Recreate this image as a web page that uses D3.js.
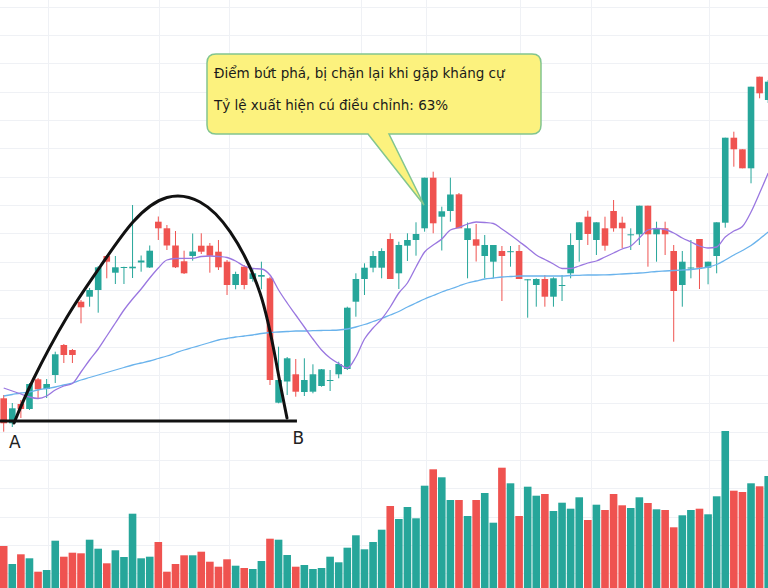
<!DOCTYPE html>
<html><head><meta charset="utf-8">
<script src="https://cdn.jsdelivr.net/npm/d3@7"></script>
<style>html,body{margin:0;padding:0;background:#fff;overflow:hidden}svg{display:block}</style>
</head><body><svg id="c" width="768" height="588"></svg>
<script>
// ---- DATA (price in thousand VND, volume in thousand shares) ----
const opens  = [28.97,26.47,28.40,27.90,30.87,29.90,31.30,34.30,33.80,38.63,39.13,39.80,43.20,41.53,42.02,41.97,42.55,42.05,46.63,45.97,
                44.25,42.67,43.20,44.23,44.23,43.63,42.63,40.30,42.13,40.90,41.13,40.97,28.53,30.65,31.37,29.60,29.63,30.20,30.75,31.37,
                31.90,38.63,40.90,42.03,42.03,44.90,41.47,44.23,44.80,45.97,51.03,47.13,47.70,49.37,44.80,44.87,43.20,42.63,43.70,43.63,
                43.70,40.80,40.30,40.90,39.13,40.25,41.47,44.80,47.13,44.80,45.97,47.70,46.53,45.32,45.37,48.23,45.37,45.97,43.70,40.30,
                42.00,44.90,42.03,43.20,46.53,55.03,53.87,51.97,61.13,58.80];
const highs  = [29.30,28.50,28.80,30.50,31.00,30.90,33.63,34.40,33.90,38.80,40.00,42.20,43.30,43.20,42.13,48.30,43.25,44.25,47.15,46.30,
                45.70,43.73,45.45,45.47,44.50,44.80,42.80,41.63,42.30,41.97,42.63,41.13,34.13,33.10,32.90,32.97,32.37,31.90,31.80,32.63,
                38.13,41.47,42.47,43.70,43.97,45.47,44.63,45.47,46.57,51.03,51.63,48.13,51.03,49.50,46.55,46.40,45.30,44.30,44.20,44.20,
                44.30,40.87,40.97,41.30,41.07,41.30,45.47,46.57,47.73,46.57,47.13,48.80,47.13,45.97,48.23,48.23,46.63,46.63,44.30,43.70,
                44.80,44.90,42.63,46.57,55.03,55.63,53.87,60.13,61.13,60.80];
const lows   = [25.63,26.10,27.00,27.80,29.00,29.00,30.50,32.50,32.50,36.47,38.13,37.53,40.97,40.40,40.40,41.00,41.63,42.00,44.80,43.80,
                42.00,41.40,42.73,43.40,41.53,41.80,39.30,39.87,39.87,40.63,39.87,30.30,28.47,29.30,29.13,29.20,29.47,30.13,29.70,30.97,
                31.80,37.13,39.30,41.57,40.97,40.90,39.90,42.70,43.23,45.63,45.47,43.75,46.63,45.97,40.97,42.65,40.97,40.97,38.70,42.13,
                40.90,37.03,38.13,38.13,38.13,38.70,40.97,42.63,44.30,43.30,43.73,45.63,43.97,43.80,44.30,42.13,42.63,43.30,34.63,38.13,
                40.97,39.90,40.37,41.47,46.03,52.13,51.97,50.47,58.97,58.50];
const closes = [26.47,27.97,27.90,30.40,29.87,30.40,33.37,33.30,33.30,38.07,39.80,42.07,42.63,42.07,42.10,42.13,42.75,43.73,45.97,44.25,
                42.07,41.47,43.65,43.63,43.23,42.07,40.30,41.40,40.30,41.47,41.30,30.80,30.80,32.97,29.63,30.80,31.37,31.87,30.80,32.40,
                38.03,40.90,42.03,43.20,43.70,40.90,44.30,44.80,45.40,51.03,46.47,47.67,49.35,45.97,45.97,44.23,44.30,44.30,43.20,43.68,
                40.90,40.87,40.90,39.13,40.97,40.30,44.30,46.57,45.40,46.57,44.23,45.97,45.97,45.37,48.23,45.37,45.97,45.37,39.70,42.63,
                42.05,42.03,42.63,46.57,55.03,53.87,51.97,60.13,59.47,60.63];
const volume = [420,240,337,297,163,180,473,313,353,347,483,393,247,377,310,743,297,313,460,163,
                240,327,327,363,263,213,287,223,200,190,270,493,483,330,213,230,190,200,313,257,
                403,527,387,460,583,820,690,810,697,1023,1187,1107,880,880,720,880,950,653,1203,1047,
                720,1013,923,940,770,853,793,907,680,833,780,940,827,800,907,850,787,780,607,727,
                780,793,737,917,1570,973,960,1047,1017,1120];
const maShort = [30.00,29.70,29.40,29.10,28.95,29.20,29.80,30.20,30.45,31.60,32.80,33.90,35.20,36.50,37.80,38.90,39.90,41.00,42.00,42.80,
                 42.95,42.97,42.97,43.15,43.20,43.15,43.05,42.70,42.20,41.95,41.90,41.30,39.80,38.50,37.30,36.10,34.90,33.80,33.00,32.45,
                 32.00,33.10,34.90,36.00,36.90,38.10,39.50,40.50,42.10,43.60,44.30,44.90,45.80,46.05,46.40,46.60,46.55,46.45,45.90,45.30,
                 44.65,44.00,43.30,42.85,42.40,41.95,41.95,42.20,42.50,42.70,43.10,43.50,43.90,44.20,45.00,45.80,45.95,45.85,45.50,45.00,
                 44.60,44.20,44.00,44.10,45.10,45.70,46.15,47.60,49.50,51.50];
const maLong  = [29.20,29.35,29.50,29.60,29.80,29.95,30.10,30.30,30.50,30.80,31.05,31.30,31.55,31.80,32.05,32.30,32.50,32.70,32.95,33.20,
                 33.50,33.80,34.05,34.30,34.55,34.80,34.95,35.10,35.20,35.30,35.45,35.55,35.60,35.65,35.70,35.70,35.73,35.75,35.77,35.80,
                 35.90,36.10,36.35,36.65,36.95,37.30,37.65,38.10,38.50,38.90,39.25,39.60,39.90,40.20,40.50,40.70,40.90,41.00,41.10,41.15,
                 41.20,41.20,41.20,41.20,41.20,41.20,41.25,41.27,41.30,41.30,41.32,41.35,41.40,41.45,41.50,41.57,41.65,41.70,41.75,41.80,
                 41.85,41.95,42.10,42.35,42.80,43.30,43.75,44.25,44.90,45.60];
// cup outline (index, price) and its base line A-B
const cupIdx   = [1.20, 3.41, 7.37, 11.21, 15.05, 19.01, 22.85, 26.35, 29.84, 31.82, 32.98];
const cupPrice = [26.50, 30.80, 37.10, 42.10, 46.60, 49.05, 48.60, 45.63, 39.50, 32.10, 27.00];
const baseIdx = [-0.73, 34.14];
const basePrice = 26.70;
const labelA = {idx: 1.3, price: 24.0, text: "A"};
const labelB = {idx: 34.3, price: 24.4, text: "B"};
const calloutTip = {idx: 48.93, price: 48.3};
const calloutLines = ["Điểm bứt phá, bị chặn lại khi gặp kháng cự", "Tỷ lệ xuất hiện cú điều chỉnh: 63%"];
// time grid positions (candle index)
const timeGrid = [5.2, 18.1, 26.2, 41.6, 49.2, 60.1, 68.4, 82.1];

// ---- CHART ----
const W = 768, H = 588;
const UP = "#26a69a", DOWN = "#ef5350";
const svg = d3.select("#c");
const x = d3.scaleLinear().domain([0, 89]).range([3.7, 768.2]);
const y = d3.scaleLinear().domain([10, 68.8]).range([588, 0]);
const yv = d3.scaleLinear().domain([0, 1600]).range([588, 428]);
const n = closes.length;
const idx = d3.range(n);

// grid
const priceGrid = d3.range(0, 21).map(k => 68.133 - 2.8333 * k);
const g = svg.append("g");
g.selectAll("line.h").data(priceGrid).join("line")
  .attr("x1", 0).attr("x2", W).attr("y1", d => Math.round(y(d)) + 0.5).attr("y2", d => Math.round(y(d)) + 0.5)
  .attr("stroke", "#eff1f5").attr("stroke-width", 1);
g.selectAll("line.v").data(timeGrid).join("line")
  .attr("y1", 0).attr("y2", H).attr("x1", d => Math.round(x(d)) + 0.5).attr("x2", d => Math.round(x(d)) + 0.5)
  .attr("stroke", "#eff1f5").attr("stroke-width", 1);

// volume
svg.append("g").selectAll("rect").data(idx).join("rect")
  .attr("x", i => x(i) - 3.8).attr("width", 7.6)
  .attr("y", i => yv(volume[i])).attr("height", i => yv(0) - yv(volume[i]))
  .attr("fill", i => closes[i] >= opens[i] ? UP : DOWN);

// candles
const cg = svg.append("g");
cg.selectAll("line").data(idx).join("line")
  .attr("x1", i => x(i)).attr("x2", i => x(i))
  .attr("y1", i => y(highs[i])).attr("y2", i => y(lows[i]))
  .attr("stroke", i => closes[i] >= opens[i] ? UP : DOWN).attr("stroke-width", 1);
cg.selectAll("rect").data(idx).join("rect")
  .attr("x", i => x(i) - 3.3).attr("width", 6.6)
  .attr("y", i => Math.min(y(opens[i]), y(closes[i])))
  .attr("height", i => Math.max(1, Math.abs(y(opens[i]) - y(closes[i]))))
  .attr("fill", i => closes[i] >= opens[i] ? UP : DOWN);

// moving averages
const maLine = arr => d3.line().x(i => x(i)).y(i => y(arr[i])).curve(d3.curveMonotoneX)(idx);
svg.append("path").attr("d", maLine(maLong)).attr("fill", "none").attr("stroke", "#6ab3ec").attr("stroke-width", 1.3);
svg.append("path").attr("d", maLine(maShort)).attr("fill", "none").attr("stroke", "#9a77e0").attr("stroke-width", 1.3);

// cup annotation
svg.append("path")
  .attr("d", d3.line().x(i => x(cupIdx[i])).y(i => y(cupPrice[i])).curve(d3.curveNatural)(d3.range(cupIdx.length)))
  .attr("fill", "none").attr("stroke", "#111").attr("stroke-width", 3).attr("stroke-linecap", "round");
svg.append("line").attr("x1", x(baseIdx[0])).attr("x2", x(baseIdx[1]))
  .attr("y1", y(basePrice)).attr("y2", y(basePrice)).attr("stroke", "#111").attr("stroke-width", 3);
[labelA, labelB].forEach(l => svg.append("text").attr("x", x(l.idx)).attr("y", y(l.price))
  .attr("text-anchor", "middle").attr("font-family", "DejaVu Sans, sans-serif").attr("font-size", 17)
  .attr("fill", "#222").text(l.text));

// callout
const bx0 = 207, by0 = 54, bx1 = 541, by1 = 134, r = 9, pb1 = 368, pb2 = 389;
const tx = x(calloutTip.idx), ty = y(calloutTip.price);
const p = d3.path();
p.moveTo(bx0 + r, by0); p.lineTo(bx1 - r, by0); p.quadraticCurveTo(bx1, by0, bx1, by0 + r);
p.lineTo(bx1, by1 - r); p.quadraticCurveTo(bx1, by1, bx1 - r, by1);
p.lineTo(pb2, by1); p.lineTo(tx, ty); p.lineTo(pb1, by1);
p.lineTo(bx0 + r, by1); p.quadraticCurveTo(bx0, by1, bx0, by1 - r);
p.lineTo(bx0, by0 + r); p.quadraticCurveTo(bx0, by0, bx0 + r, by0); p.closePath();
svg.append("path").attr("d", p.toString()).attr("fill", "#fcf27e").attr("stroke", "#82c58f").attr("stroke-width", 1.5);
svg.selectAll("text.cl").data(calloutLines).join("text")
  .attr("x", 214).attr("y", (d, i) => 78 + i * 32)
  .attr("font-family", "DejaVu Sans, sans-serif").attr("font-size", 13.5).attr("fill", "#1a1a1a").text(d => d);
</script></body></html>
